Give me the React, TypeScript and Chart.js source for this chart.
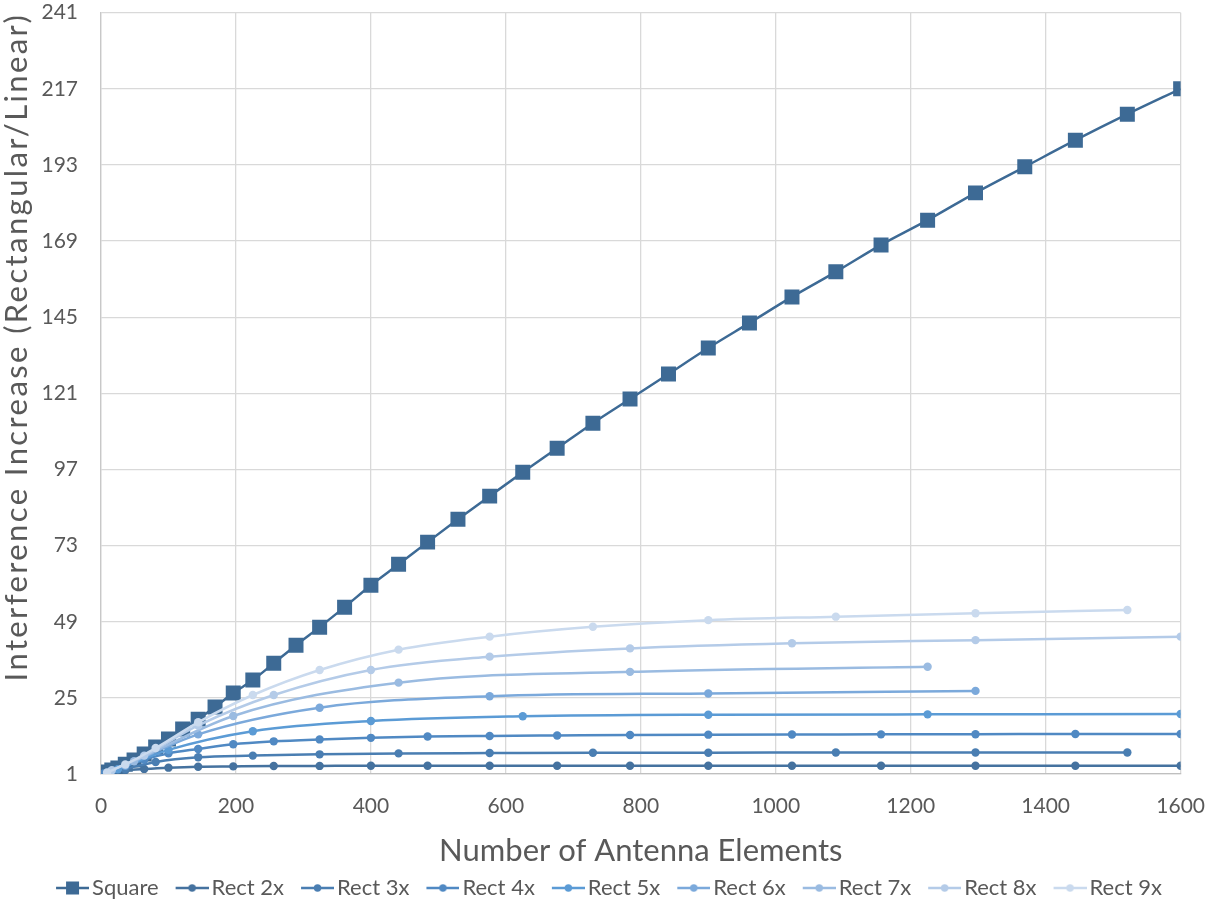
import React, { useEffect, useRef } from "react";
import { Chart, registerables } from "chart.js";

Chart.register(...registerables);

// ---- Data ----
const seriesNames = ["Square", "Rect 2x", "Rect 3x", "Rect 4x", "Rect 5x", "Rect 6x", "Rect 7x", "Rect 8x", "Rect 9x"];

const squareX = [1, 4, 9, 16, 25, 36, 49, 64, 81, 100, 121, 144, 169, 196, 225, 256, 289, 324, 361, 400, 441, 484, 529, 576, 625, 676, 729, 784, 841, 900, 961, 1024, 1089, 1156, 1225, 1296, 1369, 1444, 1521, 1600];
const squareY = [1, 1.3, 1.6, 2.3, 2.9, 4.1, 5.4, 7.3, 9.5, 12.0, 15.2, 18.3, 22.1, 26.5, 30.6, 35.9, 41.6, 47.3, 53.6, 60.5, 67.1, 74.1, 81.3, 88.6, 96.1, 103.7, 111.6, 119.2, 127.1, 135.3, 143.2, 151.4, 159.3, 167.8, 175.6, 184.2, 192.4, 200.8, 209.0, 217.0];

const rect2X = [4, 16, 36, 64, 100, 144, 196, 256, 324, 400, 484, 576, 676, 784, 900, 1024, 1156, 1296, 1444, 1600];
const rect2Y = [1.2, 1.7, 2.2, 2.6, 3.0, 3.3, 3.4, 3.5, 3.55, 3.6, 3.6, 3.6, 3.6, 3.6, 3.6, 3.6, 3.6, 3.6, 3.6, 3.6];

const rect3X = [9, 36, 81, 144, 225, 324, 441, 576, 729, 900, 1089, 1296, 1521];
const rect3Y = [1.3, 2.6, 4.8, 6.3, 6.8, 7.2, 7.5, 7.6, 7.7, 7.7, 7.8, 7.8, 7.8];

const rect4X = [4, 16, 36, 64, 100, 144, 196, 256, 324, 400, 484, 576, 676, 784, 900, 1024, 1156, 1296, 1444, 1600];
const rect4Y = [1.2, 1.9, 3.5, 5.5, 7.5, 8.9, 10.4, 11.3, 11.9, 12.4, 12.8, 13.0, 13.15, 13.3, 13.4, 13.45, 13.5, 13.55, 13.6, 13.6];

const rect5X = [25, 100, 225, 400, 625, 900, 1225, 1600];
const rect5Y = [2.5, 8.6, 14.5, 17.7, 19.2, 19.7, 19.8, 19.9];

const rect6X = [36, 144, 324, 576, 900, 1296];
const rect6Y = [3.7, 13.5, 21.9, 25.5, 26.4, 27.2];

const rect7X = [49, 196, 441, 784, 1225];
const rect7Y = [5.0, 19.3, 29.8, 33.2, 34.8];

const rect8X = [16, 64, 144, 256, 400, 576, 784, 1024, 1296, 1600];
const rect8Y = [2.2, 6.8, 16.3, 25.9, 33.8, 38.0, 40.6, 42.2, 43.2, 44.3];

const rect9X = [9, 36, 81, 144, 225, 324, 441, 576, 729, 900, 1089, 1296, 1521];
const rect9Y = [1.5, 4.0, 9.2, 17.3, 25.9, 33.8, 40.2, 44.3, 47.4, 49.5, 50.6, 51.7, 52.7];

const seriesXs = [squareX, rect2X, rect3X, rect4X, rect5X, rect6X, rect7X, rect8X, rect9X];
const seriesYs = [squareY, rect2Y, rect3Y, rect4Y, rect5Y, rect6Y, rect7Y, rect8Y, rect9Y];

const seriesColors = ["#3D6A95", "#45729F", "#4A7EB2", "#5089C3", "#5B9BD5", "#7BA9DB", "#9ABBE1", "#B4CBE8", "#CADAEE"];

const xAxisTitle = "Number of Antenna Elements";
const yAxisTitle = "Interference Increase (Rectangular/Linear)";
const X_MIN = 0, X_MAX = 1600, X_STEP = 200;
const Y_MIN = 1, Y_MAX = 241, Y_STEP = 24;

const TEXT = "#595959";
const GRID = "#D9D9D9";

// legend geometry
const LEG_FONT = 22;
const LEG_BOX = 18;
const LEG_PAD = 24;
const ICON_W = LEG_BOX + LEG_FONT - 6; // image right edge ends 3px before text
const LINE_LEN = 33;
const LEG_SHIFT_X = 22;

function makeIcon(color: string, square: boolean) {
  const c = document.createElement("canvas");
  c.width = ICON_W;
  c.height = 16;
  const g = c.getContext("2d")!;
  g.strokeStyle = color;
  g.lineWidth = 2.5;
  g.beginPath();
  g.moveTo(ICON_W - LINE_LEN, 8);
  g.lineTo(ICON_W, 8);
  g.stroke();
  g.fillStyle = color;
  const cx = ICON_W - LINE_LEN / 2;
  if (square) {
    g.fillRect(cx - 6.5, 8 - 6.5, 13, 13);
  } else {
    g.beginPath();
    g.arc(cx, 8, 3.7, 0, Math.PI * 2);
    g.fill();
  }
  return c;
}

const legendShift = {
  id: "legendShift",
  afterLayout(chart: any) {
    if (chart.legend) {
      chart.legend.left += LEG_SHIFT_X;
      chart.legend.right += LEG_SHIFT_X;
    }
  },
};

export default function App() {
  const ref = useRef<HTMLCanvasElement | null>(null);

  useEffect(() => {
    if (!ref.current) return;
    const icons = seriesNames.map((_, i) => makeIcon(seriesColors[i], i === 0));
    const datasets = seriesNames.map((name, i) => ({
      label: name,
      data: seriesXs[i].map((x, j) => ({ x, y: seriesYs[i][j] })),
      borderColor: seriesColors[i],
      backgroundColor: seriesColors[i],
      pointBackgroundColor: seriesColors[i],
      pointBorderColor: seriesColors[i],
      pointBorderWidth: 0,
      borderWidth: 2.5,
      pointStyle: i === 0 ? "rect" : "circle",
      pointRadius: i === 0 ? 10.6 : 4.2,
      pointHoverRadius: i === 0 ? 10.6 : 4.2,
      cubicInterpolationMode: "monotone",
      order: seriesNames.length - i,
    }));

    const chart = new Chart(ref.current, {
      type: "line",
      data: { datasets: datasets as any },
      plugins: [legendShift],
      options: {
        animation: false,
        responsive: false,
        layout: { padding: { top: 12.7, right: 24, bottom: -4, left: 0 } },
        plugins: {
          tooltip: { enabled: false },
          legend: {
            position: "bottom",
            labels: {
              usePointStyle: true,
              pointStyleWidth: LEG_BOX,
              padding: LEG_PAD,
              color: TEXT,
              font: { family: "Lato", size: LEG_FONT },
              generateLabels: (ch: any) =>
                ch.data.datasets.map((ds: any, i: number) => ({
                  text: ds.label,
                  fillStyle: ds.borderColor,
                  strokeStyle: ds.borderColor,
                  lineWidth: 0,
                  hidden: false,
                  datasetIndex: i,
                  pointStyle: icons[i],
                  fontColor: TEXT,
                })),
            },
          },
        },
        scales: {
          x: {
            type: "linear",
            min: X_MIN,
            max: X_MAX,
            ticks: {
              stepSize: X_STEP,
              padding: 0,
              color: TEXT,
              font: { family: "Lato", size: 21 },
              callback: (v: any) => String(v),
            },
            grid: { color: GRID, lineWidth: 1.3, drawTicks: true, tickLength: 20, tickColor: "rgba(0,0,0,0)" },
            border: { color: "#BFBFBF", width: 1.3 },
            title: {
              display: true,
              text: xAxisTitle,
              color: TEXT,
              font: { family: "Lato", size: 31 },
              padding: { top: 0, bottom: -17 },
            },
            afterFit: (s: any) => {
              s.height = 79;
            },
          },
          y: {
            type: "linear",
            min: Y_MIN,
            max: Y_MAX,
            ticks: {
              stepSize: Y_STEP,
              padding: 0,
              color: TEXT,
              font: { family: "Lato", size: 21 },
              callback: (v: any) => String(v),
            },
            grid: { color: GRID, lineWidth: 1.3, drawTicks: true, tickLength: 23, tickColor: "rgba(0,0,0,0)" },
            border: { color: "#C8C8C8", width: 1.3 },
            title: {
              display: true,
              text: yAxisTitle,
              align: "end",
              color: TEXT,
              font: { family: "Lato", size: 31 },
              padding: { top: -2, bottom: 0 },
            },
            afterFit: (s: any) => {
              s.width = 101;
              if (!s.__spaced) {
                const orig = s.drawTitle.bind(s);
                s.drawTitle = () => {
                  const ctx = s.ctx;
                  ctx.save();
                  (ctx as any).letterSpacing = "2.4px";
                  orig();
                  ctx.restore();
                };
                s.__spaced = true;
              }
            },
          },
        },
      } as any,
    });
    return () => chart.destroy();
  }, []);

  return (
    <div style={{ position: "absolute", left: 0, top: 0, width: 1205, height: 905, background: "#fff" }}>
      <canvas ref={ref} width={1205} height={905} style={{ display: "block" }} />
    </div>
  );
}
